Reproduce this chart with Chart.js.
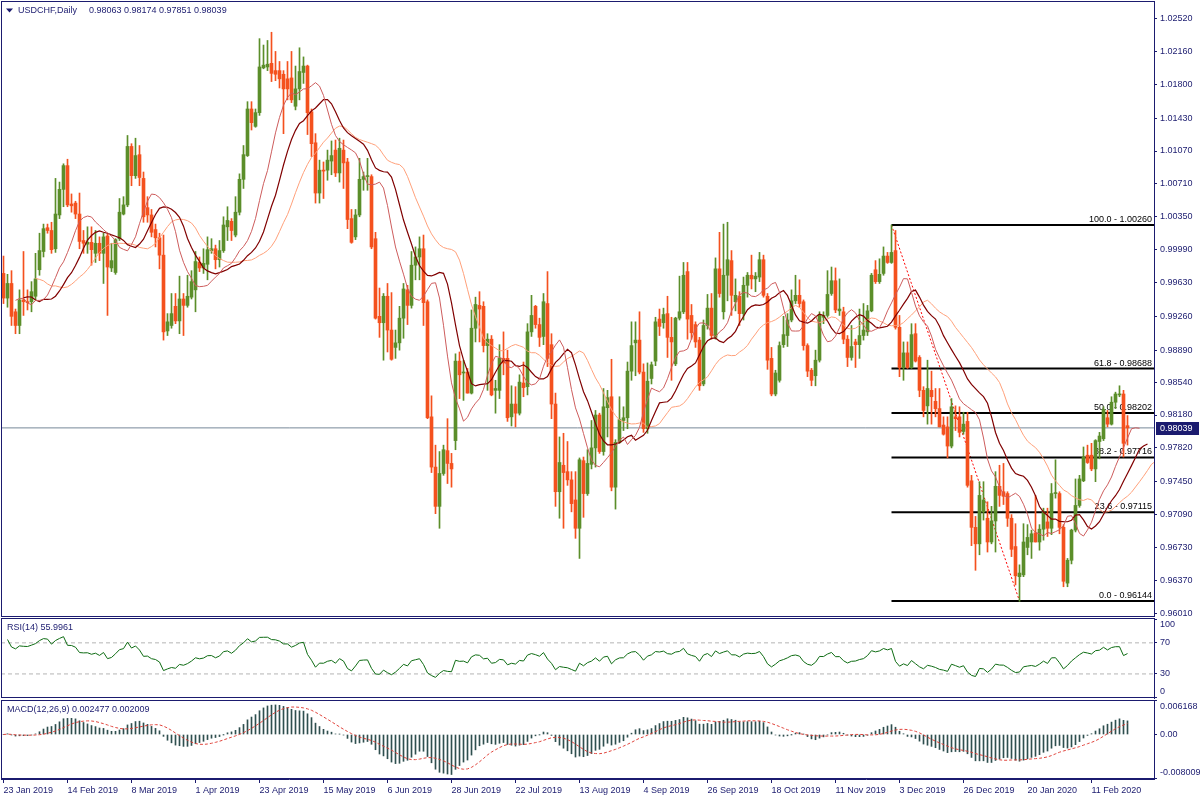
<!DOCTYPE html>
<html>
<head>
<meta charset="utf-8">
<title>USDCHF Daily</title>
<script src="https://cdn.jsdelivr.net/npm/chart.js@4.4.1/dist/chart.umd.min.js"></script>
<style>
  html, body { margin: 0; padding: 0; background: #fff; }
  #wrap { position: relative; width: 1200px; height: 800px; overflow: hidden; background: #fff; }
  #wrap canvas { position: absolute; left: 0; }
</style>
</head>
<body>
<div id="wrap">
  <canvas id="priceChart" width="1200" height="618" style="top:0px"></canvas>
  <canvas id="rsiChart" width="1200" height="82" style="top:617px"></canvas>
  <canvas id="macdChart" width="1200" height="101" style="top:699px"></canvas>
</div>
<script>
// ---- data (prices x 10000) ----
var openPips = [
  9973, 9946, 9962, 9931, 9916, 9944, 9942, 9942, 9948, 9977,
  9997, 10023, 10020, 10000, 10037, 10065, 10091, 10049, 10050, 10038,
  10009, 10005, 10007, 9995, 10006, 9995, 10014, 9979, 9974, 10011,
  10038, 10048, 10112, 10080, 10103, 10077, 10045, 10037, 10021, 10012,
  9993, 9910, 9916, 9937, 9921, 9945, 9938, 9947, 9955, 9985,
  9979, 9983, 9998, 10000, 9988, 9998, 10024, 10030, 10015, 10040,
  10076, 10102, 10153, 10134, 10149, 10198, 10199, 10203, 10195, 10195,
  10191, 10186, 10187, 10156, 10175, 10193, 10200, 10150, 10116, 10061,
  10086, 10086, 10096, 10108, 10083, 10108, 10095, 10033, 10013, 10037,
  10076, 10079, 10079, 10011, 9926, 9919, 9948, 9911, 9892, 9897,
  9924, 9955, 9938, 9982, 9991, 10000, 9942, 9816, 9761, 9718,
  9754, 9779, 9765, 9790, 9877, 9864, 9865, 9842, 9913, 9938,
  9937, 9894, 9901, 9845, 9845, 9880, 9880, 9816, 9830, 9820,
  9853, 9849, 9909, 9937, 9917, 9904, 9940, 9895, 9830, 9734,
  9763, 9756, 9747, 9725, 9694, 9768, 9732, 9764, 9782, 9818,
  9778, 9826, 9838, 9739, 9788, 9812, 9815, 9866, 9897, 9900,
  9865, 9803, 9858, 9877, 9923, 9919, 9929, 9903, 9874, 9924,
  9931, 9975, 9927, 9917, 9900, 9852, 9916, 9935, 9903, 9978,
  9931, 9971, 9987, 9942, 9948, 9929, 9960, 9971, 9967, 9969,
  9988, 9948, 9880, 9841, 9856, 9895, 9905, 9922, 9943, 9949,
  9942, 9894, 9867, 9861, 9878, 9925, 9927, 9951, 9965, 9932,
  9931, 9901, 9881, 9898, 9895, 9905, 9909, 9932, 9977, 9964,
  9973, 9992, 9985, 9998, 9914, 9870, 9886, 9870, 9907, 9881,
  9845, 9828, 9845, 9833, 9825, 9807, 9805, 9784, 9816, 9816,
  9800, 9811, 9746, 9695, 9677, 9712, 9705, 9679, 9702, 9740,
  9734, 9732, 9705, 9674, 9641, 9643, 9673, 9679, 9689, 9679,
  9693, 9701, 9694, 9732, 9732, 9695, 9634, 9659, 9692, 9719,
  9746, 9774, 9774, 9759, 9789, 9792, 9815, 9808, 9832, 9840,
  9841, 9806.3
];
var highPips = [
  9992, 9972, 9976, 9934, 9955, 9997, 9955, 9964, 9995, 10017,
  10027, 10027, 10029, 10077, 10073, 10093, 10098, 10060, 10052, 10061,
  10020, 10024, 10024, 10020, 10013, 10017, 10017, 10006, 10011, 10055,
  10057, 10124, 10115, 10121, 10113, 10084, 10057, 10043, 10027, 10017,
  10015, 9929, 9951, 9951, 9970, 9951, 9971, 9976, 9997, 9991,
  10000, 10013, 10011, 10004, 10009, 10035, 10046, 10033, 10057, 10082,
  10113, 10161, 10161, 10153, 10230, 10223, 10228, 10237, 10216, 10205,
  10195, 10205, 10216, 10200, 10220, 10210, 10201, 10153, 10126, 10097,
  10095, 10108, 10118, 10119, 10121, 10119, 10099, 10043, 10043, 10099,
  10084, 10099, 10081, 10018, 9957, 9951, 9962, 9952, 9911, 9937,
  9962, 9960, 9997, 10002, 10013, 10015, 9944, 9839, 9785, 9778,
  9785, 9814, 9776, 9885, 9887, 9878, 9869, 9933, 9947, 9953,
  9942, 9907, 9905, 9856, 9895, 9909, 9889, 9850, 9849, 9862,
  9876, 9918, 9949, 9938, 9924, 9951, 9975, 9907, 9842, 9794,
  9798, 9789, 9756, 9756, 9771, 9772, 9780, 9812, 9823, 9820,
  9847, 9845, 9879, 9791, 9838, 9827, 9876, 9920, 9920, 9931,
  9874, 9875, 9876, 9925, 9934, 9935, 9948, 9925, 9925, 9970,
  9985, 9985, 9939, 9920, 9903, 9922, 9950, 9951, 9990, 10018,
  10027, 10029, 9998, 9967, 9953, 9969, 9974, 9993, 9974, 9996,
  9993, 9951, 9892, 9867, 9898, 9926, 9929, 9955, 9971, 9966,
  9944, 9896, 9869, 9889, 9931, 9931, 9976, 9980, 9979, 9967,
  9936, 9905, 9916, 9901, 9934, 9940, 9938, 9973, 9987, 9989,
  10002, 9996, 10026, 10020, 9927, 9898, 9898, 9918, 9918, 9883,
  9849, 9878, 9866, 9847, 9847, 9816, 9816, 9836, 9828, 9827,
  9821, 9821, 9752, 9707, 9745, 9745, 9723, 9718, 9756, 9763,
  9765, 9734, 9709, 9699, 9654, 9699, 9698, 9692, 9730, 9698,
  9716, 9716, 9743, 9769, 9734, 9698, 9661, 9693, 9748, 9752,
  9783, 9785, 9787, 9791, 9799, 9827, 9823, 9838, 9843, 9850,
  9845, 9817.4
];
var lowPips = [
  9940, 9936, 9916, 9907, 9907, 9927, 9933, 9931, 9944, 9971,
  9991, 10017, 9995, 9996, 10033, 10046, 10046, 10040, 10033, 10000,
  9995, 9995, 9982, 9985, 9987, 9962, 9927, 9975, 9972, 10009,
  10037, 10046, 10069, 10077, 10069, 10029, 10029, 10013, 10002, 9978,
  9900, 9905, 9913, 9918, 9907, 9905, 9936, 9945, 9931, 9975,
  9973, 9966, 9995, 9978, 9980, 9996, 10009, 10009, 10013, 10037,
  10066, 10101, 10130, 10133, 10146, 10197, 10195, 10183, 10184, 10176,
  10126, 10163, 10160, 10152, 10163, 10181, 10125, 10101, 10050, 10050,
  10055, 10075, 10081, 10079, 10073, 10066, 10022, 10006, 10010, 10035,
  10064, 10064, 10000, 9923, 9903, 9878, 9887, 9878, 9880, 9889,
  9902, 9917, 9935, 9966, 9966, 9916, 9814, 9755, 9710, 9694,
  9752, 9743, 9739, 9780, 9836, 9834, 9842, 9841, 9898, 9898,
  9887, 9845, 9839, 9820, 9836, 9862, 9811, 9806, 9805, 9818,
  9838, 9840, 9904, 9913, 9893, 9895, 9871, 9814, 9718, 9705,
  9694, 9741, 9712, 9683, 9661, 9706, 9730, 9759, 9761, 9776,
  9774, 9794, 9735, 9715, 9787, 9801, 9803, 9856, 9861, 9863,
  9799, 9798, 9852, 9872, 9905, 9913, 9881, 9856, 9872, 9922,
  9929, 9901, 9901, 9892, 9845, 9850, 9912, 9901, 9901, 9947,
  9923, 9943, 9927, 9932, 9916, 9922, 9947, 9956, 9953, 9964,
  9947, 9868, 9839, 9839, 9854, 9892, 9893, 9920, 9940, 9936,
  9889, 9860, 9850, 9850, 9876, 9918, 9925, 9949, 9930, 9927,
  9896, 9871, 9878, 9870, 9880, 9900, 9905, 9931, 9962, 9962,
  9971, 9984, 9984, 9912, 9860, 9856, 9869, 9869, 9876, 9838,
  9816, 9808, 9808, 9816, 9805, 9796, 9771, 9782, 9801, 9794,
  9797, 9739, 9675, 9648, 9665, 9703, 9668, 9677, 9668, 9718,
  9720, 9696, 9663, 9632, 9614, 9641, 9665, 9661, 9679, 9670,
  9681, 9685, 9687, 9727, 9688, 9630, 9630, 9655, 9690, 9717,
  9745, 9765, 9757, 9745, 9770, 9790, 9805, 9807, 9825, 9838,
  9772, 9785.1
];
var closePips = [
  9946, 9962, 9926, 9916, 9944, 9942, 9941, 9953, 9967, 9998,
  10022, 10020, 9999, 10038, 10065, 10091, 10048, 10047, 10038, 10008,
  10006, 10007, 9999, 10006, 9995, 10013, 9980, 9987, 10010, 10040,
  10048, 10112, 10080, 10102, 10078, 10035, 10037, 10018, 10012, 9993,
  9909, 9920, 9929, 9921, 9945, 9938, 9948, 9964, 9986, 9979,
  9984, 9999, 10000, 9988, 9998, 10026, 10031, 10020, 10040, 10076,
  10103, 10153, 10138, 10149, 10199, 10201, 10202, 10192, 10191, 10186,
  10175, 10175, 10163, 10175, 10194, 10200, 10149, 10115, 10061, 10086,
  10085, 10097, 10102, 10083, 10110, 10094, 10032, 10007, 10037, 10076,
  10079, 10080, 10002, 9924, 9919, 9948, 9911, 9879, 9897, 9924,
  9956, 9938, 9982, 9991, 10000, 9941, 9815, 9761, 9718, 9754,
  9780, 9765, 9759, 9877, 9862, 9865, 9842, 9913, 9939, 9934,
  9894, 9901, 9840, 9847, 9880, 9875, 9815, 9830, 9820, 9854,
  9848, 9909, 9927, 9917, 9903, 9942, 9880, 9830, 9734, 9766,
  9755, 9747, 9721, 9694, 9769, 9732, 9765, 9782, 9818, 9778,
  9827, 9837, 9739, 9788, 9813, 9815, 9866, 9894, 9900, 9865,
  9803, 9855, 9873, 9920, 9915, 9928, 9903, 9898, 9924, 9931,
  9971, 9923, 9908, 9898, 9850, 9916, 9935, 9905, 9978, 9951,
  9971, 9988, 9949, 9949, 9929, 9960, 9971, 9967, 9970, 9988,
  9949, 9878, 9841, 9864, 9894, 9906, 9922, 9943, 9949, 9940,
  9894, 9866, 9856, 9878, 9928, 9927, 9950, 9965, 9933, 9934,
  9901, 9881, 9893, 9895, 9905, 9911, 9932, 9971, 9964, 9972,
  9992, 9985, 9996, 9914, 9870, 9886, 9870, 9906, 9877, 9845,
  9823, 9847, 9838, 9825, 9805, 9797, 9784, 9827, 9814, 9799,
  9808, 9741, 9695, 9677, 9730, 9725, 9679, 9702, 9740, 9730,
  9729, 9705, 9671, 9642, 9645, 9679, 9684, 9688, 9679, 9693,
  9712, 9694, 9732, 9733, 9695, 9636, 9659, 9692, 9719, 9748,
  9772, 9766, 9759, 9790, 9795, 9824, 9808, 9832, 9841, 9841,
  9787, 9803.9
];

// one tick label every 16 bars, starting at bar 0
var dateLabels = ['23 Jan 2019', '14 Feb 2019', '8 Mar 2019', '1 Apr 2019', '23 Apr 2019', '15 May 2019',
  '6 Jun 2019', '28 Jun 2019', '22 Jul 2019', '13 Aug 2019', '4 Sep 2019', '26 Sep 2019',
  '18 Oct 2019', '11 Nov 2019', '3 Dec 2019', '26 Dec 2019', '20 Jan 2020', '11 Feb 2020'];
var priceTicks = [1.02520, 1.02160, 1.01800, 1.01430, 1.01070, 1.00710, 1.00350, 0.99990, 0.99630, 0.99260,
  0.98890, 0.98540, 0.98180, 0.97820, 0.97450, 0.97090, 0.96730, 0.96370, 0.96010];
var rsiTicks = [100, 70, 30, 0];
var rsiLevels = [70, 30];
var macdTicks = [0.006168, 0, -0.008009];
var fibRatios = ['100.0', '61.8', '50.0', '38.2', '23.6', '0.0'];
var fibLevels = [1.00260, 0.98688, 0.98202, 0.97716, 0.97115, 0.96144];
var fibStartBar = 222;
var fibLowBar = 254;

var symbolTitle = 'USDCHF,Daily';
var rsiTitle = 'RSI(14) 55.9961';
var macdTitle = 'MACD(12,26,9) 0.002477 0.002009';

// ---- colours ----
var NAVY = '#1b1b6f';
var GREEN = '#5b8e2a';
var RED = '#f4511e';
var FONT = '9px "Liberation Sans", Arial, sans-serif';

// ---- helpers ----
function toPrice(v) { return v / 10000; }

function smma(src, len) {
  var seed = 0;
  for (var k = 0; k < len; k++) seed += src[k];
  var out = [seed / len];
  for (var i = 1; i < src.length; i++) out.push((out[i - 1] * (len - 1) + src[i]) / len);
  return out;
}

function ema(src, len) {
  var k = 2 / (len + 1), out = [src[0]];
  for (var i = 1; i < src.length; i++) out.push(out[i - 1] + k * (src[i] - out[i - 1]));
  return out;
}

function sma(src, len) {
  var out = [], sum = 0;
  for (var i = 0; i < src.length; i++) {
    sum += src[i];
    if (i >= len) sum -= src[i - len];
    out.push(sum / Math.min(i + 1, len));
  }
  return out;
}

function rsi(src, len) {
  var g = 0, l = 0, i, d;
  for (i = 1; i <= len; i++) {
    d = src[i] - src[i - 1];
    if (d > 0) g += d; else l -= d;
  }
  g /= len; l /= len;
  var out = [null];
  for (i = 1; i < src.length; i++) {
    d = src[i] - src[i - 1];
    g = (g * (len - 1) + Math.max(d, 0)) / len;
    l = (l * (len - 1) + Math.max(-d, 0)) / len;
    out.push(l === 0 ? 100 : 100 - 100 / (1 + g / l));
  }
  return out;
}

var opens = openPips.map(toPrice);
var highs = highPips.map(toPrice);
var lows = lowPips.map(toPrice);
var closes = closePips.map(toPrice);
var n = closes.length;
var bars = [];
for (var i = 0; i < n; i++) bars.push(i);

var candleColors = bars.map(function (i) { return closes[i] >= opens[i] ? GREEN : RED; });
var lastClose = closes[n - 1];

// 4 px per bar, bar 0 at x = 3.5
var X_MIN = -0.625;
var X_MAX = 287.625;

Chart.defaults.font.family = '"Liberation Sans", Arial, sans-serif';
Chart.defaults.font.size = 9;
Chart.defaults.color = NAVY;

function hLine(v, color, width, dash, order) {
  return {
    type: 'line',
    data: [{ x: X_MIN, y: v }, { x: X_MAX, y: v }],
    borderColor: color, borderWidth: width, borderDash: dash || [],
    pointRadius: 0, order: order
  };
}

function shifted(values, shift) {
  return values.map(function (v, i) { return { x: i + shift, y: v }; });
}

function hiddenX() {
  return { type: 'linear', min: X_MIN, max: X_MAX, offset: false, display: false };
}

function rightAxis(min, max, tickValues, fmt) {
  return {
    type: 'linear', position: 'right', min: min, max: max,
    afterFit: function (s) { s.width = 46; s.paddingTop = 0; s.paddingBottom = 0; },
    afterBuildTicks: function (s) { s.ticks = tickValues.map(function (v) { return { value: v }; }); },
    ticks: { callback: fmt, color: NAVY, padding: 3, autoSkip: false },
    grid: { drawOnChartArea: false, drawTicks: true, tickLength: 3, color: NAVY },
    border: { display: true, color: NAVY, width: 1 }
  };
}

// sub-window frame, title and axis labels kept inside the window like the terminal does
function panelFrame(chart, title, tickValues, fmt) {
  var ctx = chart.ctx, a = chart.chartArea, y = chart.scales.y;
  ctx.save();
  ctx.strokeStyle = NAVY;
  ctx.lineWidth = 1;
  ctx.strokeRect(a.left + 0.5, a.top + 0.5, a.right - a.left, a.bottom - a.top - 1);
  ctx.fillStyle = NAVY;
  ctx.font = FONT;
  ctx.textBaseline = 'middle';
  ctx.textAlign = 'left';
  ctx.fillText(title, a.left + 6, a.top + 9.5);
  tickValues.forEach(function (v) {
    var py = Math.min(Math.max(y.getPixelForValue(v), a.top + 7), a.bottom - 6.5);
    ctx.fillText(fmt(v), a.right + 6, py);
  });
  ctx.restore();
}

// ---- price panel ----
var medians = bars.map(function (i) { return (highs[i] + lows[i]) / 2; });
var jaw = smma(medians, 13);
var teeth = smma(medians, 8);
var lips = smma(medians, 5);

var priceDecor = {
  id: 'priceDecor',
  beforeDatasetsDraw: function (chart) {
    var ctx = chart.ctx, a = chart.chartArea, y = chart.scales.y;
    ctx.save();
    ctx.font = FONT;
    ctx.fillStyle = '#000';
    ctx.textAlign = 'right';
    ctx.textBaseline = 'bottom';
    fibLevels.forEach(function (lv, k) {
      ctx.fillText(fibRatios[k] + ' - ' + lv.toFixed(5), a.right - 2, y.getPixelForValue(lv) - 1);
    });
    ctx.restore();
  },
  afterDraw: function (chart) {
    var ctx = chart.ctx, a = chart.chartArea, y = chart.scales.y;
    ctx.save();
    ctx.strokeStyle = NAVY;
    ctx.lineWidth = 1;
    ctx.strokeRect(a.left + 0.5, a.top + 0.5, a.right - a.left, a.bottom - a.top);
    // header
    ctx.fillStyle = NAVY;
    ctx.font = FONT;
    ctx.textBaseline = 'middle';
    ctx.beginPath();
    ctx.moveTo(6, 8.5); ctx.lineTo(13, 8.5); ctx.lineTo(9.5, 12.5); ctx.closePath();
    ctx.fill();
    ctx.fillText(symbolTitle, 18, 10.5);
    var ohlc = [opens[n - 1], highs[n - 1], lows[n - 1], closes[n - 1]].map(function (v) { return v.toFixed(5); }).join(' ');
    ctx.fillText(ohlc, 89, 10.5);
    // current price box
    var py = y.getPixelForValue(lastClose);
    ctx.fillStyle = NAVY;
    ctx.fillRect(a.right + 2, Math.round(py) - 6, 43, 13);
    ctx.fillStyle = '#fff';
    ctx.fillText(lastClose.toFixed(5), a.right + 6, Math.round(py) + 0.5);
    ctx.restore();
  }
};

var fibDatasets = fibLevels.map(function (lv) {
  return {
    type: 'line',
    data: [{ x: fibStartBar, y: lv }, { x: X_MAX, y: lv }],
    borderColor: '#000', borderWidth: 2, pointRadius: 0, order: 9
  };
});

new Chart(document.getElementById('priceChart'), {
  type: 'bar',
  data: {
    datasets: [
      hLine(lastClose, '#778899', 1, [], 12),
      {
        type: 'line',
        data: [{ x: fibStartBar, y: fibLevels[0] }, { x: fibLowBar, y: fibLevels[fibLevels.length - 1] }],
        borderColor: '#ff0000', borderWidth: 1, borderDash: [2, 2], pointRadius: 0, order: 10
      }
    ].concat(fibDatasets).concat([
      {
        type: 'bar',
        data: bars.map(function (i) { return { x: i, y: [lows[i], highs[i]] }; }),
        backgroundColor: candleColors, barThickness: 1, grouped: false, borderWidth: 0,
        minBarLength: 1, order: 6
      },
      {
        type: 'bar',
        data: bars.map(function (i) { return { x: i, y: [Math.min(opens[i], closes[i]), Math.max(opens[i], closes[i])] }; }),
        backgroundColor: candleColors, barThickness: 3, grouped: false, borderWidth: 0,
        minBarLength: 1, order: 5
      },
      { type: 'line', data: shifted(jaw, 8), borderColor: '#ffa07a', borderWidth: 1, pointRadius: 0, tension: 0, order: 3 },
      { type: 'line', data: shifted(teeth, 5), borderColor: '#800000', borderWidth: 1.2, pointRadius: 0, tension: 0, order: 2 },
      { type: 'line', data: shifted(lips, 3), borderColor: '#cd5c5c', borderWidth: 1, pointRadius: 0, tension: 0, order: 1 }
    ])
  },
  options: {
    responsive: false, animation: false, devicePixelRatio: 1, events: [],
    layout: { padding: { left: 1, top: 1, right: 0, bottom: 2 } },
    plugins: { legend: { display: false }, tooltip: { enabled: false } },
    scales: {
      x: hiddenX(),
      y: rightAxis(0.959798, 1.027121, priceTicks, function (v) { return v.toFixed(5); })
    }
  },
  plugins: [priceDecor]
});

// ---- RSI panel ----
var rsiValues = rsi(closes, 14);
var rsiFmt = function (v) { return String(v); };

new Chart(document.getElementById('rsiChart'), {
  type: 'line',
  data: {
    datasets: [
      hLine(rsiLevels[0], '#b4b4b4', 1, [4, 3], 5),
      hLine(rsiLevels[1], '#b4b4b4', 1, [4, 3], 5),
      {
        data: bars.map(function (i) { return { x: i, y: rsiValues[i] }; }),
        borderColor: '#0d6b12', borderWidth: 1, pointRadius: 0, tension: 0, spanGaps: true, order: 1
      }
    ]
  },
  options: {
    responsive: false, animation: false, devicePixelRatio: 1, events: [],
    layout: { padding: { left: 1, top: 1, right: 0, bottom: 1 } },
    plugins: { legend: { display: false }, tooltip: { enabled: false } },
    scales: {
      x: hiddenX(),
      y: rightAxis(-1, 102, rsiTicks, function () { return ''; })
    }
  },
  plugins: [{ id: 'rsiFrame', afterDraw: function (c) { panelFrame(c, rsiTitle, rsiTicks, rsiFmt); } }]
});

// ---- MACD panel ----
var macdMain = (function () {
  var fast = ema(closes, 12), slow = ema(closes, 26);
  return fast.map(function (v, i) { return v - slow[i]; });
})();
var macdSignal = sma(macdMain, 9);
var macdFmt = function (v) { return v === 0 ? '0.00' : v.toFixed(6); };

new Chart(document.getElementById('macdChart'), {
  type: 'bar',
  data: {
    datasets: [
      {
        type: 'bar',
        data: bars.map(function (i) { return { x: i, y: macdMain[i] }; }),
        backgroundColor: '#2f4f4f', barThickness: 1, borderWidth: 0, order: 2
      },
      {
        type: 'line',
        data: bars.map(function (i) { return { x: i, y: macdSignal[i] }; }),
        borderColor: '#e0443c', borderWidth: 1, borderDash: [3, 2], pointRadius: 0, tension: 0, order: 1
      }
    ]
  },
  options: {
    responsive: false, animation: false, devicePixelRatio: 1, events: [],
    layout: { padding: { left: 1, top: 1, right: 0, bottom: 0 } },
    plugins: { legend: { display: false }, tooltip: { enabled: false } },
    scales: {
      x: {
        type: 'linear', min: X_MIN, max: X_MAX, offset: false,
        afterFit: function (s) { s.height = 21; s.paddingLeft = 0; s.paddingRight = 0; },
        afterBuildTicks: function (s) { s.ticks = dateLabels.map(function (_, k) { return { value: k * 16 }; }); },
        ticks: {
          callback: function (v, k) { return dateLabels[k]; },
          align: 'start', color: NAVY, maxRotation: 0, autoSkip: false, padding: 2
        },
        grid: { drawOnChartArea: false, drawTicks: true, tickLength: 4, color: NAVY, offset: false },
        border: { display: true, color: NAVY }
      },
      y: rightAxis(-0.00819, 0.00635, macdTicks, function () { return ''; })
    }
  },
  plugins: [{ id: 'macdFrame', afterDraw: function (c) { panelFrame(c, macdTitle, macdTicks, macdFmt); } }]
});
</script>
</body>
</html>
